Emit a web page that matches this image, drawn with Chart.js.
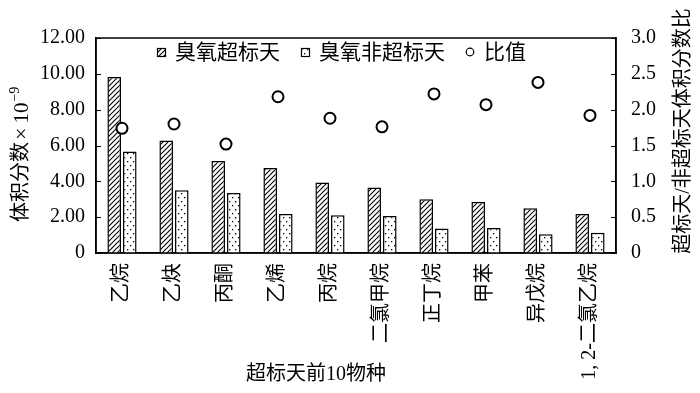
<!DOCTYPE html>
<html>
<head>
<meta charset="utf-8">
<script src="https://cdn.jsdelivr.net/npm/chart.js@4/dist/chart.umd.min.js"></script>
<style>
  html, body { margin: 0; padding: 0; background: #fff; }
  canvas { display: block; }
</style>
</head>
<body>
<canvas id="chart" width="700" height="393"></canvas>
<script>
// 超标天前10物种
const species = ['乙烷', '乙炔', '丙酮', '乙烯', '丙烷', '二氯甲烷', '正丁烷', '甲苯', '异戊烷', '1, 2-二氯乙烷'];
// 体积分数 ×10^-9
const exceedDays = [9.83, 6.28, 5.13, 4.74, 3.93, 3.65, 3.00, 2.85, 2.50, 2.17];
const normalDays = [5.67, 3.50, 3.35, 2.18, 2.11, 2.07, 1.37, 1.40, 1.05, 1.13];
// 超标天/非超标天 比值
const ratio = [1.74, 1.80, 1.52, 2.18, 1.88, 1.76, 2.22, 2.07, 2.38, 1.92];

const leftTicks = [0, 2, 4, 6, 8, 10, 12];
const rightTicks = [0, 0.5, 1, 1.5, 2, 2.5, 3];

const FONT = "'Liberation Serif', 'Noto Sans CJK SC', serif";

function makeHatch() {
    const c = document.createElement('canvas');
    c.width = 5; c.height = 5;
    const g = c.getContext('2d');
    g.fillStyle = '#fff';
    g.fillRect(0, 0, 5, 5);
    g.strokeStyle = '#000';
    g.lineWidth = 1.1;
    g.beginPath();
    g.moveTo(0, 5); g.lineTo(5, 0);
    g.moveTo(-1, 1); g.lineTo(1, -1);
    g.moveTo(4, 6); g.lineTo(6, 4);
    g.stroke();
    return g.createPattern(c, 'repeat');
}

function makeDots() {
    const c = document.createElement('canvas');
    c.width = 6; c.height = 8;
    const g = c.getContext('2d');
    g.fillStyle = '#fff';
    g.fillRect(0, 0, 6, 8);
    g.fillStyle = '#000';
    g.fillRect(1, 1, 1.3, 1.3);
    g.fillRect(4, 5, 1.3, 1.3);
    return g.createPattern(c, 'repeat');
}

// 图例画在绘图区里面
function drawLegend(chart) {
    const ctx = chart.ctx;
    const ds = chart.data.datasets;
    const y = 52;
    let x = 157;
    ctx.save();
    ctx.font = '21px ' + FONT;
    ctx.textBaseline = 'middle';
    ctx.textAlign = 'left';
    ds.forEach((d, i) => {
        ctx.lineWidth = 1.2;
        ctx.strokeStyle = '#000';
        if (d.type === 'line') {
            ctx.beginPath();
            ctx.arc(x + 4, y, 3.8, 0, Math.PI * 2);
            ctx.fillStyle = '#fff';
            ctx.fill();
            ctx.stroke();
        } else {
            ctx.fillStyle = d.backgroundColor;
            ctx.fillRect(x, y - 4, 8, 8);
            ctx.strokeRect(x + 0.5, y - 3.5, 8, 8);
        }
        x += 18;
        ctx.fillStyle = '#000';
        ctx.fillText(d.label, x, y + 1);
        x += ctx.measureText(d.label).width + 21;
    });
    ctx.restore();
}

// 左轴标题，带上标
function drawLeftTitle(ctx) {
    ctx.save();
    ctx.translate(22, 222);
    ctx.rotate(-Math.PI / 2);
    ctx.fillStyle = '#000';
    ctx.textBaseline = 'middle';
    ctx.textAlign = 'left';
    let x = 0;
    ctx.font = '20px ' + FONT;
    ctx.fillText('体积分数', x, 0);
    x += ctx.measureText('体积分数').width + 2;
    ctx.font = '22px ' + FONT;
    ctx.fillText('×', x, 0);
    x += ctx.measureText('×').width + 4;
    ctx.font = '21px ' + FONT;
    ctx.fillText('10', x, 0);
    x += ctx.measureText('10').width + 1;
    ctx.font = '14px ' + FONT;
    ctx.fillText('−9', x, -7);
    ctx.restore();
}

// 边框、向内的刻度线、轴标题、图例
const framePlugin = {
    id: 'frame',
    afterDraw(chart) {
        const ctx = chart.ctx;
        const a = chart.chartArea;
        ctx.save();
        ctx.strokeStyle = '#000';
        ctx.lineWidth = 1.5;
        ctx.strokeRect(a.left, a.top, a.right - a.left, a.bottom - a.top);

        ctx.lineWidth = 1;
        ctx.beginPath();
        const yl = chart.scales.y;
        leftTicks.forEach(v => {
            const py = Math.round(yl.getPixelForValue(v)) + 0.5;
            ctx.moveTo(a.left, py);
            ctx.lineTo(a.left + 5, py);
        });
        const yr = chart.scales.y1;
        rightTicks.forEach(v => {
            const py = Math.round(yr.getPixelForValue(v)) + 0.5;
            ctx.moveTo(a.right, py);
            ctx.lineTo(a.right - 5, py);
        });
        ctx.stroke();

        ctx.fillStyle = '#000';
        ctx.font = '20px ' + FONT;
        ctx.textAlign = 'center';
        ctx.textBaseline = 'middle';
        ctx.save();
        ctx.translate(684, 131);
        ctx.rotate(-Math.PI / 2);
        ctx.fillText('超标天/非超标天体积分数比', 0, 0);
        ctx.restore();

        ctx.font = '20px ' + FONT;
        ctx.fillText('超标天前10物种', 316, 375);
        ctx.restore();

        drawLeftTitle(ctx);
        drawLegend(chart);
    }
};

const hatch = makeHatch();
const dots = makeDots();

new Chart(document.getElementById('chart'), {
    type: 'bar',
    data: {
        labels: species,
        datasets: [{
            label: '臭氧超标天',
            data: exceedDays,
            backgroundColor: hatch,
            borderColor: '#000',
            borderWidth: 1.5,
            yAxisID: 'y',
            order: 2
        }, {
            label: '臭氧非超标天',
            data: normalDays,
            backgroundColor: dots,
            borderColor: '#000',
            borderWidth: 1.5,
            yAxisID: 'y',
            order: 2
        }, {
            type: 'line',
            label: '比值',
            data: ratio,
            showLine: false,
            pointStyle: 'circle',
            pointRadius: 5.5,
            pointBorderWidth: 2,
            pointBackgroundColor: '#fff',
            pointBorderColor: '#000',
            borderColor: '#000',
            backgroundColor: '#fff',
            yAxisID: 'y1',
            order: 1
        }]
    },
    options: {
        responsive: false,
        animation: false,
        devicePixelRatio: 1,
        categoryPercentage: 0.6,
        barPercentage: 0.87,
        layout: { padding: { top: 38, left: 0, right: 0, bottom: 0 } },
        plugins: {
            tooltip: { enabled: false },
            legend: { display: false }
        },
        scales: {
            x: {
                grid: { display: false, drawTicks: false },
                border: { color: '#000', width: 1.5 },
                ticks: {
                    color: '#000',
                    font: { size: 20, family: FONT },
                    maxRotation: 90,
                    minRotation: 90,
                    padding: 10,
                    autoSkip: false
                },
                afterFit(s) { s.height = 140; }
            },
            y: {
                position: 'left',
                min: 0,
                max: 12,
                afterBuildTicks(s) { s.ticks = leftTicks.map(v => ({ value: v })); },
                grid: { display: false, drawTicks: false },
                border: { color: '#000', width: 1.5 },
                ticks: {
                    color: '#000',
                    font: { size: 20, family: FONT },
                    padding: 11,
                    callback: v => v === 0 ? '0' : v.toFixed(2)
                },
                afterFit(s) { s.width = 96; }
            },
            y1: {
                position: 'right',
                min: 0,
                max: 3,
                afterBuildTicks(s) { s.ticks = rightTicks.map(v => ({ value: v })); },
                grid: { display: false, drawTicks: false },
                border: { color: '#000', width: 1.5 },
                ticks: {
                    color: '#000',
                    font: { size: 20, family: FONT },
                    padding: 15,
                    callback: v => v === 0 ? '0' : v.toFixed(1)
                },
                afterFit(s) { s.width = 84; }
            }
        }
    },
    plugins: [framePlugin]
});
</script>
</body>
</html>
